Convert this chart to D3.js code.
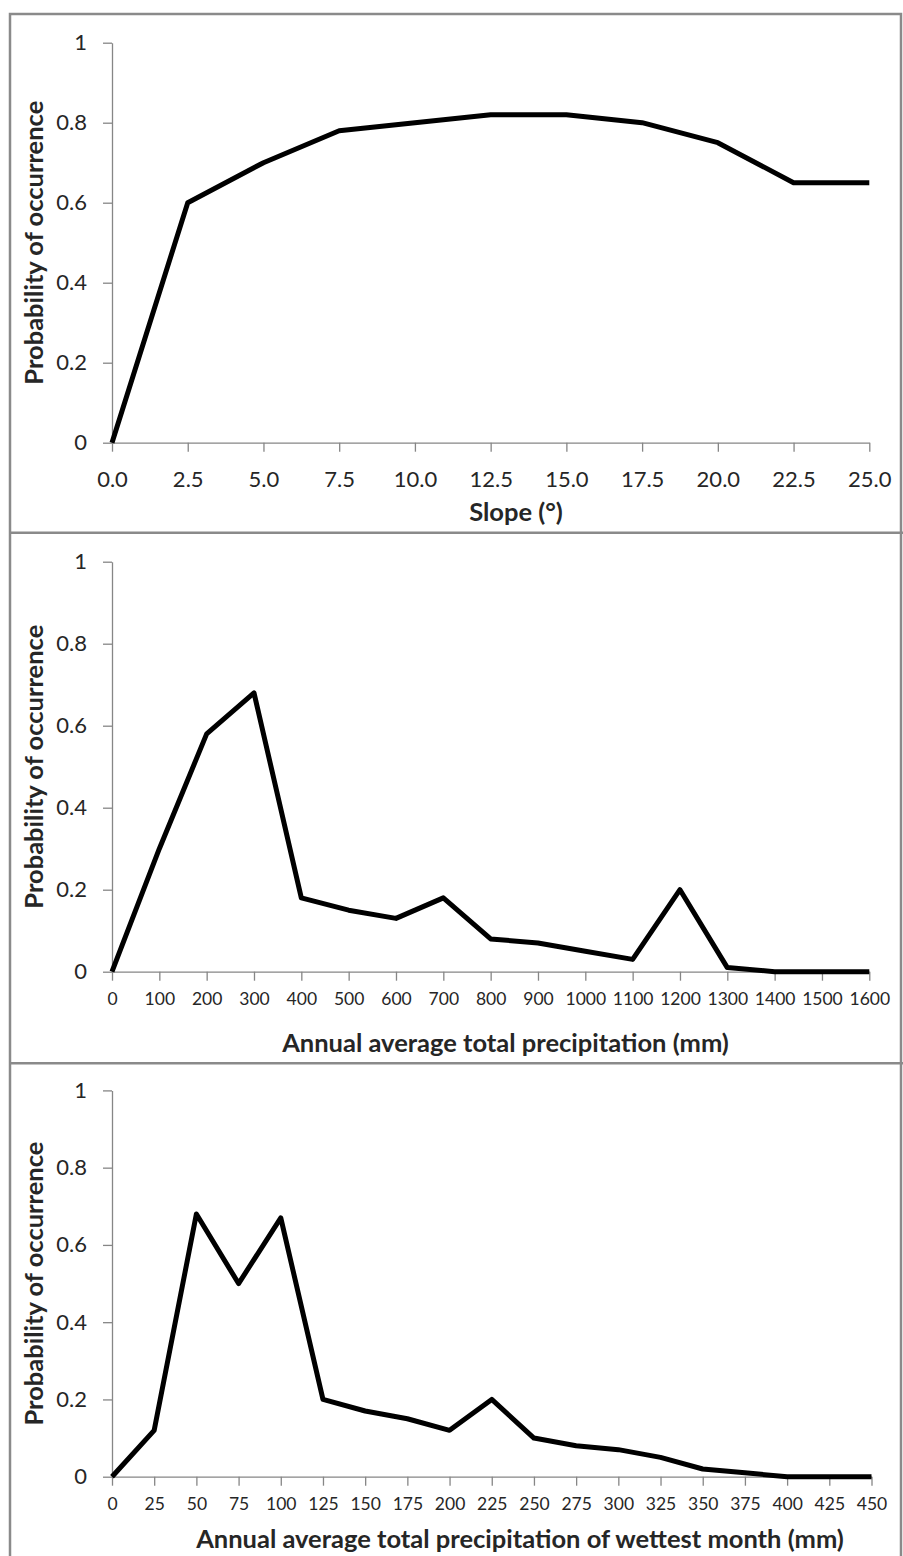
<!DOCTYPE html>
<html>
<head>
<meta charset="utf-8">
<script src="https://cdn.jsdelivr.net/npm/d3@7/dist/d3.min.js"></script>
<style>
  html, body { margin: 0; padding: 0; background: #fff; }
  svg { display: block; }
  text { font-family: Lato, "Open Sans", sans-serif; fill: #262626; }
</style>
</head>
<body>
<svg id="chart" width="903" height="1556"></svg>
<script>
// Slope response curve
const slopeX = [0, 2.5, 5, 7.5, 10, 12.5, 15, 17.5, 20, 22.5, 25];
const slopeP = [0, 0.60, 0.70, 0.78, 0.80, 0.82, 0.82, 0.80, 0.75, 0.65, 0.65];
const slopeTicks = [0, 2.5, 5, 7.5, 10, 12.5, 15, 17.5, 20, 22.5, 25];

// Annual precipitation response curve
const precipX = [0, 100, 200, 300, 400, 500, 600, 700, 800, 900, 1000, 1100, 1200, 1300, 1400, 1500, 1600];
const precipP = [0, 0.30, 0.58, 0.68, 0.18, 0.15, 0.13, 0.18, 0.08, 0.07, 0.05, 0.03, 0.20, 0.01, 0, 0, 0];
const precipTicks = [0, 100, 200, 300, 400, 500, 600, 700, 800, 900, 1000, 1100, 1200, 1300, 1400, 1500, 1600];

// Wettest-month precipitation response curve
const wetX = [0, 25, 50, 75, 100, 125, 150, 175, 200, 225, 250, 275, 300, 325, 350, 375, 400, 425, 450];
const wetP = [0, 0.12, 0.68, 0.50, 0.67, 0.20, 0.17, 0.15, 0.12, 0.20, 0.10, 0.08, 0.07, 0.05, 0.02, 0.01, 0, 0, 0];
const wetTicks = [0, 25, 50, 75, 100, 125, 150, 175, 200, 225, 250, 275, 300, 325, 350, 375, 400, 425, 450];

// Shared y axis
const yTicks = [0, 0.2, 0.4, 0.6, 0.8, 1];
const yTickLabels = ["0", "0.2", "0.4", "0.6", "0.8", "1"];
const yTitle = "Probability of occurrence";

const svg = d3.select("#chart");
const axisGrey = "#868686";
const frameGrey = "#8a8a8a";
const titleSize = 25.5;

const panels = [
  { xs: slopeX, ys: slopeP, ticks: slopeTicks, fmt: d => d.toFixed(1),
    x0: 112, x1: 869.3, yTop: 42.7, yBot: 442.7, tickFont: 22, tickPad: 19.5,
    title: "Slope (°)", titleX: 516, titleBase: 520.7 },
  { xs: precipX, ys: precipP, ticks: precipTicks, fmt: d => String(d),
    x0: 112, x1: 869.3, yTop: 561.7, yBot: 971.7, tickFont: 17.5, tickPad: 12,
    title: "Annual average total precipitation (mm)", titleX: 505.5, titleBase: 1051.7 },
  { xs: wetX, ys: wetP, ticks: wetTicks, fmt: d => String(d),
    x0: 112, x1: 871.5, yTop: 1090.4, yBot: 1476.7, tickFont: 17.5, tickPad: 11.6,
    title: "Annual average total precipitation of wettest month (mm)", titleX: 520, titleBase: 1547.7 }
];

panels.forEach(p => {
  const x = d3.scaleLinear().domain([p.ticks[0], p.ticks[p.ticks.length - 1]]).range([p.x0, p.x1]);
  const y = d3.scaleLinear().domain([0, 1]).range([p.yBot, p.yTop]);
  const g = svg.append("g");

  // y axis
  const yAxis = d3.axisLeft(y).tickValues(yTicks)
    .tickFormat((d, i) => yTickLabels[i]).tickSize(9).tickSizeOuter(0).tickPadding(16);
  const ya = g.append("g").attr("transform", `translate(${p.x0},0)`).call(yAxis);
  ya.select(".domain").attr("stroke", axisGrey).attr("stroke-width", 1.3);
  ya.selectAll(".tick line").attr("stroke", axisGrey).attr("stroke-width", 1.3);
  ya.selectAll(".tick text").attr("font-size", 22).attr("font-family", "Lato").attr("fill", "#262626");

  // x axis
  const xAxis = d3.axisBottom(x).tickValues(p.ticks).tickFormat(p.fmt)
    .tickSize(9).tickSizeOuter(0).tickPadding(p.tickPad);
  const xa = g.append("g").attr("transform", `translate(0,${p.yBot})`).call(xAxis);
  xa.select(".domain").attr("stroke", axisGrey).attr("stroke-width", 1.3);
  xa.selectAll(".tick line").attr("stroke", axisGrey).attr("stroke-width", 1.3);
  xa.selectAll(".tick text").attr("font-size", p.tickFont).attr("font-family", "Lato").attr("fill", "#262626");

  // response curve
  const line = d3.line().x((d, i) => x(p.xs[i])).y(d => y(d));
  g.append("path").datum(p.ys)
    .attr("d", line)
    .attr("fill", "none")
    .attr("stroke", "#000")
    .attr("stroke-width", 5)
    .attr("stroke-linejoin", "round")
    .attr("stroke-linecap", "butt");

  // axis titles; the y title is centred on the plot area
  g.append("text")
    .attr("x", p.titleX).attr("y", p.titleBase)
    .attr("text-anchor", "middle")
    .attr("font-size", titleSize).attr("font-weight", "bold").attr("fill", "#000")
    .text(p.title);
  g.append("text")
    .attr("transform", `translate(43,${(p.yTop + p.yBot) / 2}) rotate(-90)`)
    .attr("text-anchor", "middle")
    .attr("font-size", titleSize).attr("font-weight", "bold").attr("fill", "#000")
    .text(yTitle);
});

// outer frame and panel separators
const frame = svg.append("g").attr("fill", "none").attr("stroke", frameGrey).attr("stroke-width", 2.5);
frame.append("rect").attr("x", 10).attr("y", 14).attr("width", 891).attr("height", 1560);
[532.7, 1063.3].forEach(yy => {
  frame.append("line").attr("x1", 10).attr("x2", 903).attr("y1", yy).attr("y2", yy);
});
</script>
</body>
</html>
